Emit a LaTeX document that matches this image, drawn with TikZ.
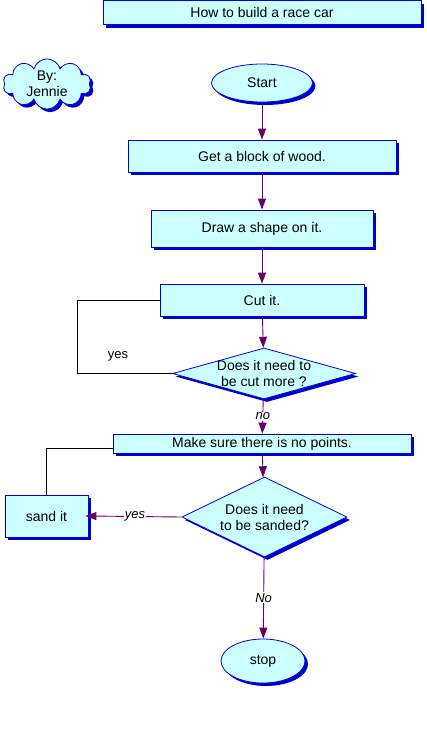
\documentclass[tikz,border=0pt]{standalone}
\usepackage{fontspec}
\setmainfont{Liberation Sans}
\usetikzlibrary{shapes.geometric,shapes.symbols,shadows,arrows.meta}
\definecolor{boxfill}{HTML}{CCFFFF}
\definecolor{boxline}{HTML}{0000EE}
\definecolor{shadowc}{HTML}{0000CC}
\definecolor{arrowc}{HTML}{660066}
\tikzset{
  base/.style={draw=boxline, fill=boxfill, line width=0.8pt, inner sep=0pt,
    drop shadow={shadow xshift=3pt, shadow yshift=-3pt, fill=shadowc, opacity=1}},
  stepbox/.style={base, rectangle},
  oval/.style={base, ellipse},
  dia/.style={base, diamond},
  flow/.style={draw=arrowc, line width=0.9pt, -{Triangle[width=8pt,length=11pt]}},
  loopline/.style={draw=black, line width=0.8pt},
  lbl/.style={fill=white, inner sep=1pt, font=\fontsize{13}{15}\selectfont\itshape}
}
\begin{document}
\begin{tikzpicture}[x=1pt, y=-1pt, font=\fontsize{14}{16}\selectfont]
\useasboundingbox (0,0) rectangle (427,734);
\node[stepbox, minimum width=318pt, minimum height=24pt] (title) at (262,12.5) {How to build a race car};
\node[base, cloud, cloud puffs=10, aspect=1.8, minimum width=88pt, minimum height=50pt, align=center] (cloud) at (47,84) {By:\\Jennie};
\node[oval, minimum width=101pt, minimum height=38pt] (start) at (262,83) {Start};
\node[stepbox, minimum width=268pt, minimum height=32pt] (get) at (262,156) {Get a block of wood.};
\node[stepbox, minimum width=222pt, minimum height=37pt] (shape) at (262,228.5) {Draw a shape on it.};
\node[stepbox, minimum width=204pt, minimum height=32pt] (cut) at (262,300) {Cut it.};
\node[dia, minimum width=183pt, minimum height=51pt, label={[align=center, font=\fontsize{14}{16}\selectfont]center:Does it need to\\be cut more ?}] (d1) at (264,373.5) {};
\node[stepbox, minimum width=298pt, minimum height=19pt] (make) at (262,443.5) {Make sure there is no points.};
\node[dia, minimum width=165pt, minimum height=80pt, label={[align=center, font=\fontsize{14}{16}\selectfont]center:Does it need\\to be sanded?}] (d2) at (264.5,517) {};
\node[stepbox, minimum width=83pt, minimum height=42pt] (sand) at (46.5,516) {sand it};
\node[oval, minimum width=84pt, minimum height=44pt] (stop) at (263,661) {stop};

\draw[flow] (start) -- (get);
\draw[flow] (get) -- (shape);
\draw[flow] (shape) -- (cut);
\draw[flow] (cut) -- (d1);
\draw[flow] (d1) -- node[lbl]{no} (make);
\draw[flow] (make) -- (d2);
\draw[flow, shorten >=-3pt] (d2.west) -- node[lbl]{yes} (sand.east);
\draw[flow] (d2) -- node[lbl]{No} (stop);

\coordinate (l1) at (77,300);
\draw[loopline] (cut.west) -- (l1) |- (d1.west);
\node[font=\fontsize{13}{15}\selectfont] (yes1) at (118,356) {yes};
\draw[loopline] (sand.north) |- ([yshift=-5pt]make.west);
\end{tikzpicture}
\end{document}
